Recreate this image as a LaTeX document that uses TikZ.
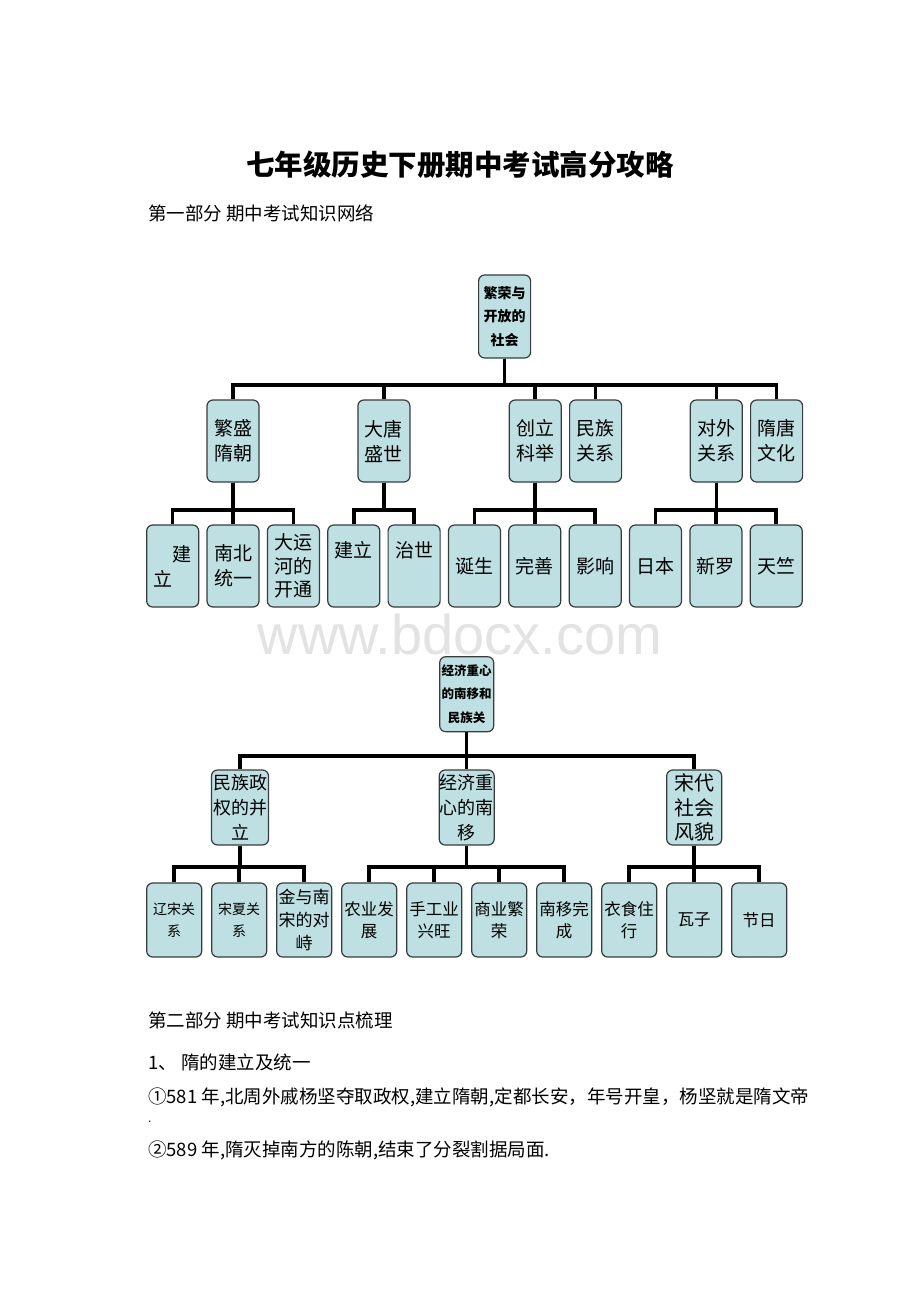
\documentclass[tikz,border=0pt]{standalone}
\usepackage{fontspec}
\setmainfont{Noto Sans CJK SC}
\newfontfamily\markfont{Liberation Sans}
\usetikzlibrary{calc}
\definecolor{boxfill}{RGB}{191,224,227}
\definecolor{boxedge}{RGB}{55,60,60}

\begin{document}
\begin{tikzpicture}[x=1pt,y=-1pt,
    tbox/.style={draw=boxedge, fill=boxfill, line width=1.2pt, rounded corners=6pt,
        minimum width=52pt, minimum height=82pt, inner sep=0pt, align=center,
        font=\fontsize{19}{25}\selectfont},
    headbox/.style={tbox, minimum height=83pt, font=\bfseries\fontsize{14}{23.5}\selectfont},
    midbox/.style={tbox, minimum width=55pt, minimum height=75pt, font=\fontsize{18}{25}\selectfont},
    leafbox/.style={tbox, minimum width=55pt, minimum height=74pt, font=\fontsize{16.5}{22}\selectfont},
    branch/.style={line width=3.5pt, black},
    para/.style={anchor=west, inner sep=0pt, font=\fontsize{18.5}{22}\selectfont}]
    \path[fill=white, use as bounding box] (0,0) rectangle (920,1302);

    %% Page head
    \node[font=\bfseries\fontsize{28.5}{32}\selectfont] (title) at (460,165) {七年级历史下册期中考试高分攻略};
    \node[para] (part1) at (148,213) {第一部分 期中考试知识网络};

    %% Tree one
    \node[headbox] (root1) at (504.6,316.5) {繁荣与\\开放的\\社会};
    \node[tbox] (s1) at (233.0,441) {繁盛\\隋朝};
    \node[tbox] (s2) at (383.9,441) {大唐\\盛世};
    \node[tbox] (s3) at (535.2,441) {创立\\科举};
    \node[tbox] (s4) at (595.6,441) {民族\\关系};
    \node[tbox] (s5) at (716.3,441) {对外\\关系};
    \node[tbox] (s6) at (776.6,441) {隋唐\\文化};

    \node[tbox, align=left] (t1) at (172.7,566) {\phantom{立}建\\立};
    \node[tbox] (t2) at (233.0,566) {南北\\统一};
    \node[tbox, font=\fontsize{19}{23.5}\selectfont] (t3) at (293.4,566) {大运\\河的\\开通};
    \node[tbox] (t4) at (353.8,566) {建立\\\strut};
    \node[tbox] (t5) at (414.1,566) {治世\\\strut};
    \node[tbox] (t6) at (474.5,566) {诞生};
    \node[tbox] (t7) at (534.8,566) {完善};
    \node[tbox] (t8) at (595.2,566) {影响};
    \node[tbox] (t9) at (655.5,566) {日本};
    \node[tbox] (t10) at (715.9,566) {新罗};
    \node[tbox] (t11) at (776.2,566) {天竺};

    \coordinate (busA) at (0,385);
    \coordinate (busB) at (0,510);
    \foreach \c in {s1,s2,s3,s4,s5,s6}
        \draw[branch] (root1.south) |- (\c.north |- busA) -- (\c.north);
    \foreach \c in {t1,t2,t3}
        \draw[branch] (s1.south) |- (\c.north |- busB) -- (\c.north);
    \foreach \c in {t4,t5}
        \draw[branch] (s2.south) |- (\c.north |- busB) -- (\c.north);
    \foreach \c in {t6,t7,t8}
        \draw[branch] (s3.south) |- (\c.north |- busB) -- (\c.north);
    \foreach \c in {t9,t10,t11}
        \draw[branch] (s5.south) |- (\c.north |- busB) -- (\c.north);

    %% Watermark
    \node[text=black!11, font=\markfont\fontsize{56}{60}\selectfont] (mark) at (460,634) {www.bdocx.com};

    %% Tree two
    \node[headbox, minimum width=54pt, minimum height=75pt,
        font=\bfseries\fontsize{12.5}{23.5}\selectfont] (root2) at (466.7,694.2) {经济重心\\的南移和\\民族关};
    \node[midbox, minimum width=57pt] (u1) at (240.0,807.5) {民族政\\权的并\\立};
    \node[midbox] (u2) at (466.7,807.5) {经济重\\心的南\\移};
    \node[midbox, font=\fontsize{20}{24.5}\selectfont] (u3) at (694.2,807.5) {宋代\\社会\\风貌};

    \node[leafbox, font=\fontsize{14}{22}\selectfont] (v1) at (174.2,920) {辽宋关\\系};
    \node[leafbox, font=\fontsize{14}{22}\selectfont] (v2) at (239.2,920) {宋夏关\\系};
    \node[leafbox, font=\fontsize{17}{23}\selectfont] (v3) at (304.2,920) {金与南\\宋的对\\峙};
    \node[leafbox] (v4) at (369.2,920) {农业发\\展};
    \node[leafbox] (v5) at (434.2,920) {手工业\\兴旺};
    \node[leafbox] (v6) at (499.2,920) {商业繁\\荣};
    \node[leafbox] (v7) at (564.2,920) {南移完\\成};
    \node[leafbox] (v8) at (629.2,920) {衣食住\\行};
    \node[leafbox] (v9) at (694.2,920) {瓦子};
    \node[leafbox] (v10) at (759.2,920) {节日};

    \coordinate (busC) at (0,756);
    \coordinate (busD) at (0,867);
    \foreach \c in {u1,u2,u3}
        \draw[branch] (root2.south) |- (\c.north |- busC) -- (\c.north);
    \foreach \c in {v1,v2,v3}
        \draw[branch] (u1.south) |- (\c.north |- busD) -- (\c.north);
    \foreach \c in {v4,v5,v6,v7}
        \draw[branch] (u2.south) |- (\c.north |- busD) -- (\c.north);
    \foreach \c in {v8,v9,v10}
        \draw[branch] (u3.south) |- (\c.north |- busD) -- (\c.north);

    %% Page text
    \node[para] (part2) at (148,1020) {第二部分 期中考试知识点梳理};
    \node[para] (sui) at (148,1062) {1、 隋的建立及统一};
    \node[para] (p1) at (148,1097) {①581 年,北周外戚杨坚夺取政权,建立隋朝,定都长安，年号开皇，杨坚就是隋文帝};
    \node[para, font=\fontsize{12}{14}\selectfont] (p1end) at (148,1122) {.};
    \node[para] (p2) at (148,1150) {②589 年,隋灭掉南方的陈朝,结束了分裂割据局面.};
\end{tikzpicture}
\end{document}
